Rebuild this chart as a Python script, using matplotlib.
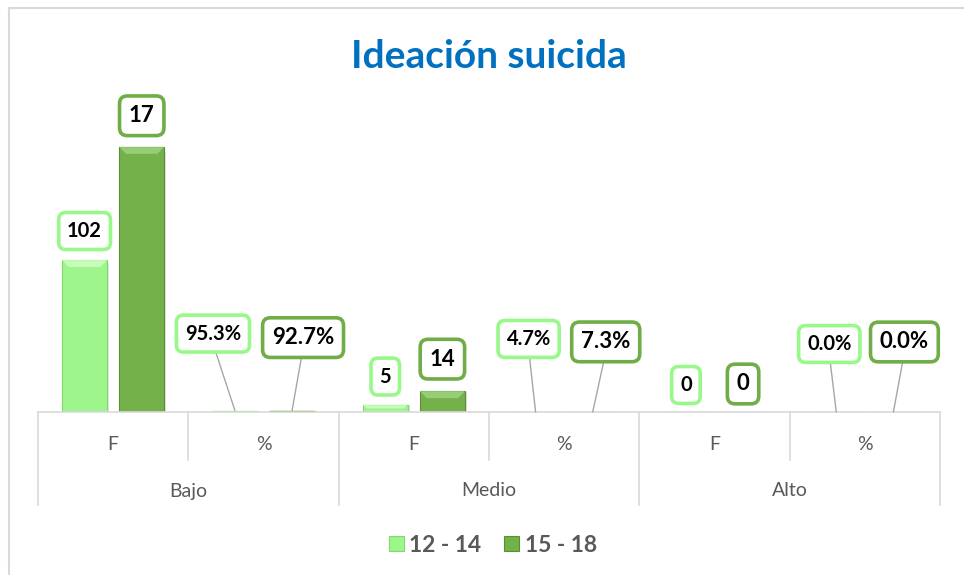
import matplotlib
matplotlib.use("Agg")
import matplotlib.pyplot as plt
from matplotlib.patches import Polygon, Patch, Rectangle
from matplotlib.transforms import blended_transform_factory
import numpy as np

plt.rcParams['font.family'] = ['Lato', 'DejaVu Sans']

# ---------------- data ----------------
groups = ["Bajo", "Medio", "Alto"]
subcats = ["F", "%"]
series_names = ["12 - 14", "15 - 18"]
# values per category (Bajo F, Bajo %, Medio F, Medio %, Alto F, Alto %)
vals_12_14 = [102, 0.953, 5, 0.047, 0, 0.0]
vals_15_18 = [178, 0.927, 14, 0.073, 0, 0.0]
labels_12_14 = ["102", "95.3%", "5", "4.7%", "0", "0.0%"]
labels_15_18 = ["17", "92.7%", "14", "7.3%", "0", "0.0%"]

# ---------------- style ----------------
W, H = 964, 575
light = "#9DF58B"
light_edge = "#7FD96E"
light_hi = "#D2FFC8"
dark = "#74B14B"
dark_edge = "#5A8F37"
dark_hi = "#A2D483"
grid_c = "#D9D9D9"
text_gray = "#595959"

fig = plt.figure(figsize=(W / 100, H / 100), dpi=100)
ax_left, ax_right, ax_bottom_px, ax_top_px = 38, 940, 412, 114
ax = fig.add_axes([ax_left / W, 1 - ax_bottom_px / H,
                   (ax_right - ax_left) / W, (ax_bottom_px - ax_top_px) / H])
ymax = 200
ax.set_xlim(-0.5, 5.5)
ax.set_ylim(0, ymax)
for s in ["top", "right", "left"]:
    ax.spines[s].set_visible(False)
ax.spines["bottom"].set_color(grid_c)
ax.spines["bottom"].set_linewidth(1.2)
ax.set_xticks([])
ax.set_yticks([])

x = np.arange(len(vals_12_14))
bw = 0.30
off = 0.19
px_y = ymax / (ax_bottom_px - ax_top_px)   # data units per pixel (y)
px_x = 6.0 / (ax_right - ax_left)          # data units per pixel (x)

def bevel_bars(xs, vals, color, edge, hi):
    bars = ax.bar(xs, vals, width=bw, color=color, edgecolor=edge, linewidth=0.8, zorder=2)
    for b in bars:
        h = b.get_height()
        if h <= 0:
            continue
        x0 = b.get_x(); x1 = x0 + b.get_width()
        bev = min(7 * px_y, h / 2)
        bx = min(7 * px_x, bev / px_y * px_x)
        ax.add_patch(Polygon([[x0, h], [x1, h], [x1 - bx, h - bev], [x0 + bx, h - bev]],
                             closed=True, fc=hi, ec='none', zorder=3, alpha=0.8))
        # subtle shadow to the right
        ax.add_patch(Rectangle((x1, 0), 2 * px_x, h * 0.98, fc="#CFCFCF", ec='none',
                               zorder=1, alpha=0.6))
    return bars

bevel_bars(x - off, vals_12_14, light, light_edge, light_hi)
bevel_bars(x + off, vals_15_18, dark, dark_edge, dark_hi)

# ---------------- data labels ----------------
# pixel offsets (dx, dy) of label centre relative to the bar top
offs_light = [(0, 29), (-22, 77), (0, 28), (-7, 73), (0, 27), (-7, 68)]
offs_dark = [(0, 31), (11, 73), (0, 32), (13, 70), (0, 28), (11, 70)]

def add_labels(xs, vals, labels, offs, ec, fs):
    for i, (xi, v, lab, (dx, dy)) in enumerate(zip(xs, vals, labels, offs)):
        leader = (i % 2 == 1)
        ax.annotate(lab, xy=(xi, v), xytext=(dx, dy), textcoords="offset pixels",
                    ha="center", va="center", fontsize=fs, fontweight="bold", color="black",
                    bbox=dict(boxstyle="round,pad=0.42,rounding_size=0.35", fc="white",
                              ec=ec, lw=2.6),
                    arrowprops=(dict(arrowstyle="-", color="#A6A6A6", lw=1.0,
                                     shrinkA=0, shrinkB=0, relpos=(0.5, 0.0))
                                if leader else None),
                    annotation_clip=False, zorder=5)

add_labels(x - off, vals_12_14, labels_12_14, offs_light, "#99F88A", 14.5)
add_labels(x + off, vals_15_18, labels_15_18, offs_dark, "#70AD47", 16)

# ---------------- multi-level category axis ----------------
tr = blended_transform_factory(ax.transData, fig.transFigure)
y_axis = 1 - ax_bottom_px / H
y_sub = 1 - 460 / H
y_grp = 1 - 505 / H
for b in [-0.5, 1.5, 3.5, 5.5]:
    fig.add_artist(plt.Line2D([b, b], [y_axis, y_grp], transform=tr, color=grid_c, lw=1.2))
for b in [0.5, 2.5, 4.5]:
    fig.add_artist(plt.Line2D([b, b], [y_axis, y_sub], transform=tr, color=grid_c, lw=1.2))
for i in range(len(x)):
    fig.text(x[i], 1 - 445 / H, subcats[i % 2], transform=tr, ha="center", va="center",
             fontsize=14, color=text_gray)
for g, name in enumerate(groups):
    fig.text(2 * g + 0.5, 1 - 491 / H, name, transform=tr, ha="center", va="center",
             fontsize=14, color=text_gray)

# ---------------- title ----------------
fig.text(489 / W, 1 - 56 / H, "Ideación suicida", ha="center", va="center",
         fontsize=28, fontweight="bold", color="#0070C0")

# ---------------- legend ----------------
handles = [Patch(fc=light, ec=light_edge, lw=0.8), Patch(fc=dark, ec=dark_edge, lw=0.8)]
leg = fig.legend(handles, series_names, loc="center", bbox_to_anchor=(493 / W, 1 - 545 / H),
                 ncol=2, frameon=False, handlelength=0.65, handleheight=0.65,
                 handletextpad=0.25, columnspacing=1.0,
                 prop=dict(size=16.5, weight="bold"))
for t in leg.get_texts():
    t.set_color(text_gray)

# ---------------- chart border ----------------
fig.add_artist(plt.Line2D([9 / W, 9 / W], [0, 1 - 8 / H], transform=fig.transFigure,
                          color=grid_c, lw=1.5))
fig.add_artist(plt.Line2D([9 / W, 1], [1 - 8 / H, 1 - 8 / H], transform=fig.transFigure,
                          color=grid_c, lw=1.5))

fig.savefig("out.png", dpi=100, facecolor="white")
